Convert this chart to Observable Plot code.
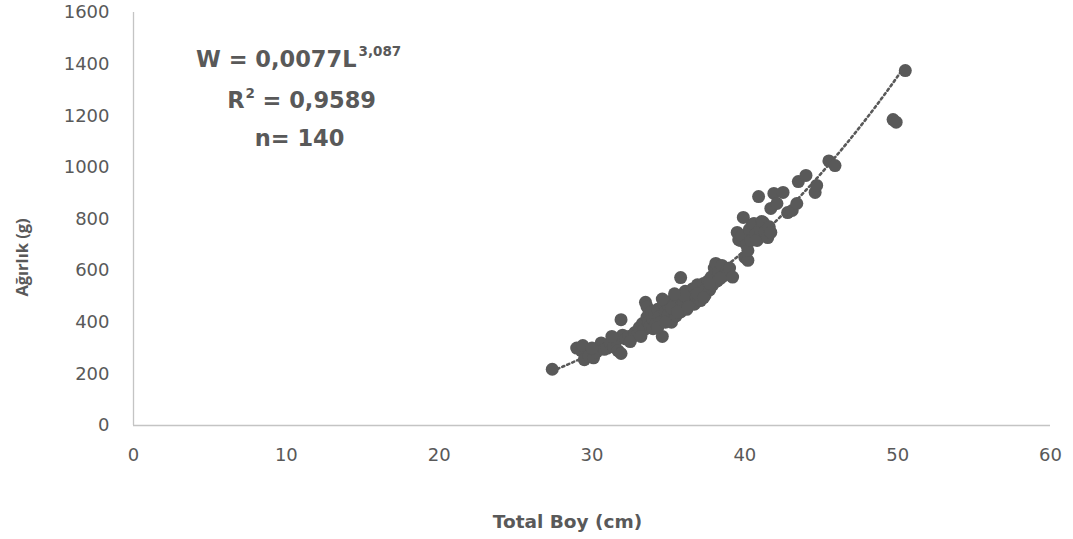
<!DOCTYPE html>
<html>
<head>
<meta charset="utf-8">
<script src="https://cdn.jsdelivr.net/npm/d3@7"></script>
<script src="https://cdn.jsdelivr.net/npm/@observablehq/plot@0.6"></script>
<style>
  html, body { margin: 0; padding: 0; background: #fff; }
  #chart { width: 1073px; height: 539px; }
</style>
</head>
<body>
<div id="chart"></div>
<script>
// Total length (cm) and weight (g) of each fish
const lengths = [
  27.4, 29.0, 29.3, 29.4, 29.5, 29.8, 30.1, 30.3, 30.6, 30.8,
  31.0, 31.2, 31.4, 31.6, 31.7, 31.9, 31.9, 32.0, 32.2, 32.4,
  32.6, 32.8, 33.0, 33.1, 33.3, 33.4, 33.5, 33.6, 33.6, 33.7,
  33.8, 33.9, 34.0, 34.0, 34.1, 34.2, 34.3, 34.4, 34.5, 34.6,
  34.7, 34.8, 34.9, 35.0, 35.0, 35.1, 35.2, 35.3, 35.4, 35.5,
  35.6, 35.7, 35.8, 35.8, 35.9, 36.0, 36.1, 36.2, 36.3, 36.4,
  36.5, 36.6, 36.7, 36.8, 36.9, 37.0, 37.1, 37.2, 37.3, 37.4,
  37.5, 37.6, 37.7, 37.8, 37.9, 38.0, 38.1, 38.2, 38.3, 38.5,
  38.6, 38.8, 38.9, 39.0, 39.2, 39.5, 39.6, 39.7, 39.8, 39.9,
  40.0, 40.1, 40.2, 40.2, 40.3, 40.4, 40.5, 40.6, 40.7, 40.8,
  40.9, 41.0, 41.1, 41.2, 41.3, 41.5, 41.6, 41.7, 41.7, 41.9,
  42.1, 42.5, 42.8, 43.1, 43.4, 43.5, 44.0, 44.6, 44.7, 45.5,
  45.9, 49.7, 49.9, 50.5, 32.5, 33.2, 34.3, 34.8, 35.2, 35.6,
  36.0, 36.3, 36.9, 37.3, 37.7, 38.4, 30.0, 31.3, 34.6, 35.4
];
const weights = [
  218, 300, 290, 310, 255, 270, 262, 285, 320, 295,
  300, 318, 305, 330, 290, 279, 410, 350, 335, 345,
  340, 360, 356, 380, 395, 370, 477, 460, 420, 400,
  385, 440, 410, 375, 430, 395, 450, 420, 400, 345,
  470, 440, 415, 460, 430, 480, 400, 450, 470, 425,
  495, 455, 573, 440, 500, 470, 520, 450, 490, 510,
  480, 530, 470, 505, 545, 490, 484, 520, 550, 505,
  535, 560, 525, 575, 545, 610, 628, 560, 595, 620,
  580, 600, 589, 610, 575, 748, 720, 717, 735, 806,
  651, 700, 640, 678, 760, 717, 780, 783, 740, 717,
  887, 760, 790, 787, 750, 728, 770, 748, 841, 899,
  860, 903, 825, 833, 860, 945, 969, 903, 930, 1025,
  1007, 1185, 1175, 1375, 325, 345, 380, 400, 455, 440,
  505, 460, 510, 495, 550, 570, 300, 345, 490, 510
];

// Power fit W = a·L^b
const fitA = 0.0077;
const fitB = 3.087;

const xTicks = [0, 10, 20, 30, 40, 50, 60];
const yTicks = [0, 200, 400, 600, 800, 1000, 1200, 1400, 1600];

const fish = lengths.map((L, i) => ({L, W: weights[i]}));
const Lmin = d3.min(lengths), Lmax = d3.max(lengths);
const fitCurve = d3.range(Lmin, Lmax + 0.05, 0.1).map(L => ({L, W: fitA * Math.pow(L, fitB)}));

const ink = "#595959";
const font = "'DejaVu Sans', sans-serif";

const chart = Plot.plot({
  width: 1073,
  height: 539,
  marginTop: 12,
  marginRight: 23,
  marginBottom: 114,
  marginLeft: 133,
  style: {fontFamily: font, fontSize: "18px", color: ink, background: "#fff"},
  x: {domain: [0, 60]},
  y: {domain: [0, 1600]},
  marks: [
    Plot.axisX({ticks: xTicks, tickFormat: d => String(d), tickSize: 0, tickPadding: 23, label: null, fontSize: 18}),
    Plot.axisY({ticks: yTicks, tickFormat: d => String(d), tickSize: 0, tickPadding: 24, label: null, fontSize: 18}),
    Plot.ruleY([0], {stroke: "#c4c4c4", strokeWidth: 1.3}),
    Plot.ruleX([0], {stroke: "#c4c4c4", strokeWidth: 1.3}),
    Plot.line(fitCurve, {x: "L", y: "W", stroke: ink, strokeWidth: 2.6, strokeDasharray: "2.2,3.2"}),
    Plot.dot(fish, {x: "L", y: "W", r: 6.5, fill: ink, stroke: null}),
    // axis titles
    Plot.text(["Total Boy (cm)"], {frameAnchor: "bottom", dx: -24.5, dy: 97, text: d => d, lineAnchor: "middle",
      fontWeight: "bold", fontSize: 18.5, fill: ink}),
    Plot.text(["Ağırlık (g)"], {x: () => -7.26, y: () => 651, rotate: -90, text: d => d, lineAnchor: "middle",
      textAnchor: "middle", fontFamily: "'Open Sans', sans-serif", fontWeight: "bold", fontSize: 16.5, fill: ink}),
    // equation block
    Plot.text(["W = 0,0077L"], {frameAnchor: "top-left", dx: 223, dy: 54, text: d => d, textAnchor: "end", lineAnchor: "bottom",
      fontWeight: "bold", fontSize: 22.5, fill: ink}),
    Plot.text(["3,087"], {frameAnchor: "top-left", dx: 225, dy: 43, text: d => d, textAnchor: "start", lineAnchor: "bottom",
      fontWeight: "bold", fontSize: 13.5, fill: ink}),
    Plot.text(["R"], {frameAnchor: "top-left", dx: 111, dy: 95, text: d => d, textAnchor: "end", lineAnchor: "bottom",
      fontWeight: "bold", fontSize: 22.5, fill: ink}),
    Plot.text(["2"], {frameAnchor: "top-left", dx: 112, dy: 85, text: d => d, textAnchor: "start", lineAnchor: "bottom",
      fontWeight: "bold", fontSize: 13.5, fill: ink}),
    Plot.text(["= 0,9589"], {frameAnchor: "top-left", dx: 129, dy: 95, text: d => d, textAnchor: "start", lineAnchor: "bottom",
      fontWeight: "bold", fontSize: 22.5, fill: ink}),
    Plot.text(["n= 140"], {frameAnchor: "top-left", dx: 166, dy: 133, text: d => d, textAnchor: "middle", lineAnchor: "bottom",
      fontWeight: "bold", fontSize: 22.5, fill: ink})
  ]
});

document.getElementById("chart").appendChild(chart);
</script>
</body>
</html>
